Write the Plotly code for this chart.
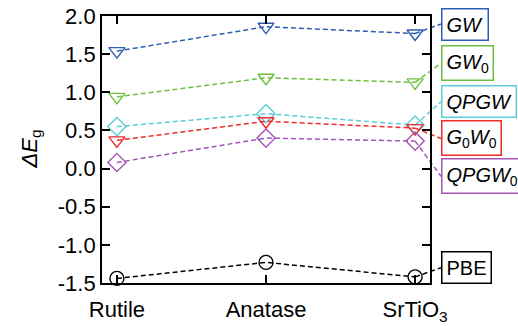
import plotly.graph_objects as go

categories = ["Rutile", "Anatase", "SrTiO<sub>3</sub>"]
series_names = ["<i>GW</i>", "<i>GW</i><sub>0</sub>", "<i>QPGW</i>",
                "<i>G</i><sub>0</sub><i>W</i><sub>0</sub>", "<i>QPGW</i><sub>0</sub>", "PBE"]
gw = [1.54, 1.86, 1.77]
gw0 = [0.94, 1.19, 1.13]
qpgw = [0.55, 0.72, 0.57]
g0w0 = [0.37, 0.62, 0.53]
qpgw0 = [0.08, 0.40, 0.36]
pbe = [-1.44, -1.23, -1.42]
series_values = [gw, gw0, qpgw, g0w0, qpgw0, pbe]
label_y = [1.895, 1.38, 0.875, 0.395, -0.10, -1.30]
colors = ["#2f5fb3", "#6cc040", "#5ccdd2", "#ef2b2b", "#a455b5", "#000000"]
symbols = ["triangle-down-open", "triangle-down-open", "diamond-open",
           "triangle-down-open", "diamond-open", "circle-open"]
ytickvals = [2.0, 1.5, 1.0, 0.5, 0.0, -0.5, -1.0, -1.5]
yticktext = ["2.0", "1.5", "1.0", "0.5", "0.0", "-0.5", "-1.0", "-1.5"]

W, H = 518, 326
ml, mr, mt, mb = 102, 88, 16, 43
xr = [-0.1, 2.1]

fig = go.Figure()
for name, vals, c, s in zip(series_names, series_values, colors, symbols):
    fig.add_trace(go.Scatter(
        x=list(range(len(categories))), y=vals, mode="lines+markers", name=name,
        line=dict(color=c, width=1.5, dash="5px,3px"),
        marker=dict(symbol=s, size=14, color=c, line=dict(color=c, width=1.4)),
        showlegend=False, cliponaxis=False))

pw = W - ml - mr
box_left = (441 - ml) / pw
last_idx = len(categories) - 1
last_x_paper = (last_idx - xr[0]) / (xr[1] - xr[0])
for name, vals, c, ly in zip(series_names, series_values, colors, label_y):
    fig.add_shape(type="line", xref="paper", yref="y",
                  x0=last_x_paper, y0=vals[-1], x1=box_left, y1=ly,
                  line=dict(color=c, width=1.5, dash="5px,3px"), layer="below")
    fig.add_annotation(xref="paper", yref="y", x=box_left, y=ly, xanchor="left",
                       yanchor="middle", text=name, showarrow=False,
                       font=dict(family="Liberation Sans, Arial", size=20, color="black"),
                       bordercolor=c, borderwidth=1.5, borderpad=4, bgcolor="white")

fig.add_annotation(xref="paper", yref="paper", x=(30 - ml) / pw, y=0.5,
                   xanchor="center", yanchor="middle",
                   text="<i>ΔE</i><sub>g</sub>", textangle=-90, showarrow=False,
                   font=dict(family="Liberation Sans, Arial", size=22, color="black"))

fig.update_layout(
    width=W, height=H, margin=dict(l=ml, r=mr, t=mt, b=mb, autoexpand=False),
    paper_bgcolor="white", plot_bgcolor="white",
    font=dict(family="Liberation Sans, Arial", size=22, color="black"),
    xaxis=dict(range=xr, tickvals=list(range(len(categories))), ticktext=categories,
               ticks="inside", ticklen=8, tickwidth=1.5, tickcolor="black",
               showline=True, linecolor="black", linewidth=1.8, mirror="ticks",
               showgrid=False, zeroline=False, tickfont=dict(size=22),
               ticklabelstandoff=6, automargin=False),
    yaxis=dict(range=[-1.5, 2.0], tickvals=ytickvals, ticktext=yticktext,
               ticks="inside", ticklen=8, tickwidth=1.5, tickcolor="black",
               showline=True, linecolor="black", linewidth=1.8, mirror="ticks",
               showgrid=False, zeroline=False, tickfont=dict(size=22),
               automargin=False),
)
fig.write_html("out.html")
